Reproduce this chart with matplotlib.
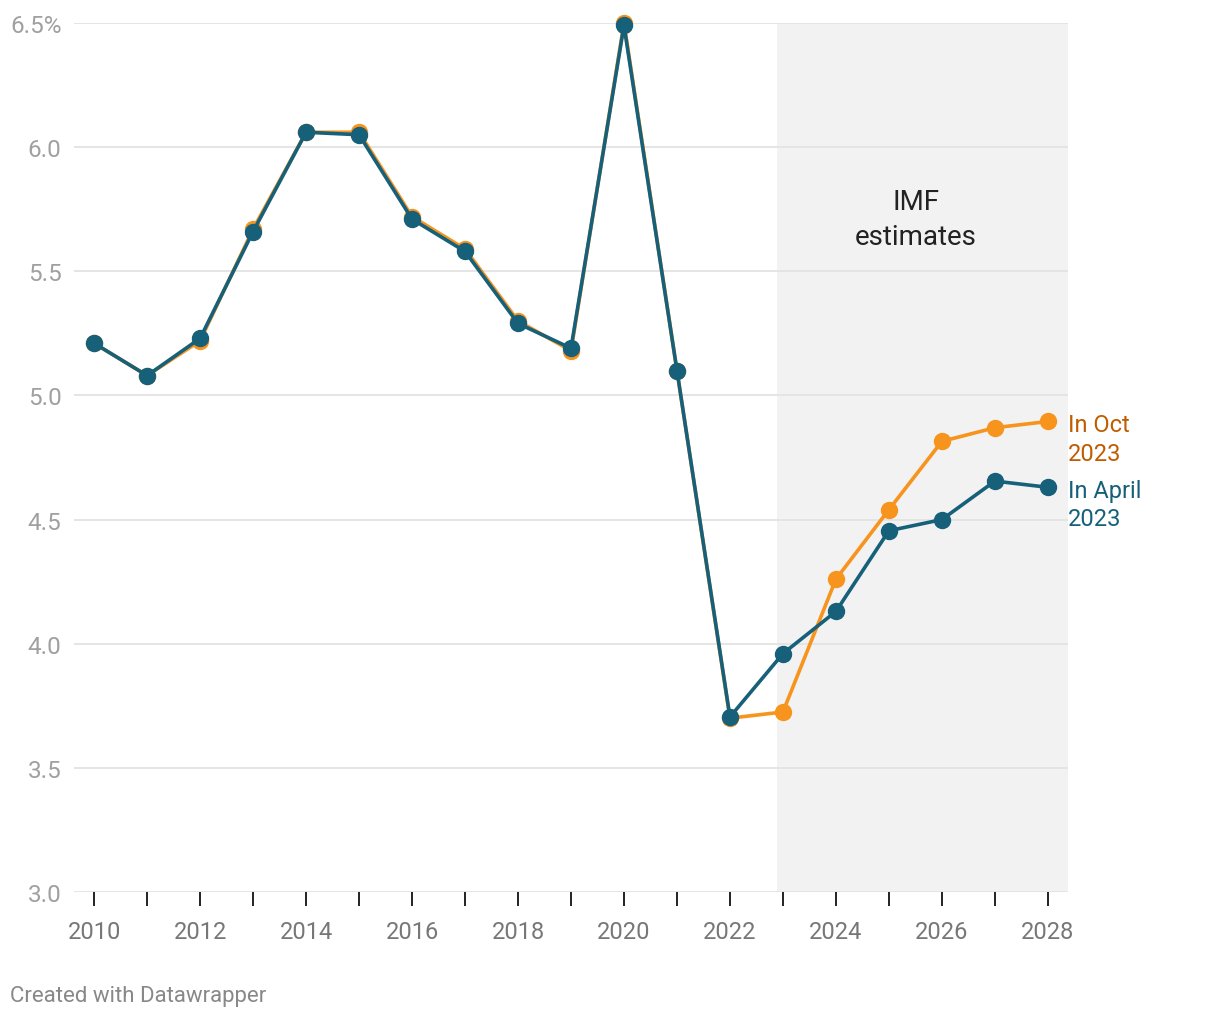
import numpy as np
import matplotlib.pyplot as plt
from matplotlib.ticker import FixedLocator

plt.rcParams['font.family'] = ['Roboto', 'DejaVu Sans']

years = list(range(2010, 2029))
oct_2023 = [5.21, 5.08, 5.22, 5.67, 6.06, 6.06, 5.72, 5.59, 5.30, 5.18,
            6.50, 5.10, 3.70, 3.725, 4.26, 4.54, 4.815, 4.87, 4.895]
april_2023 = [5.21, 5.08, 5.23, 5.66, 6.06, 6.05, 5.71, 5.58, 5.29, 5.19,
              6.49, 5.10, 3.705, 3.96, 4.13, 4.455, 4.50, 4.655, 4.63]
y_ticks = [3.0, 3.5, 4.0, 4.5, 5.0, 5.5, 6.0, 6.5]
y_labels = ["3.0", "3.5", "4.0", "4.5", "5.0", "5.5", "6.0", "6.5%"]
x_labels = list(range(2010, 2029, 2))
forecast_start = 2022.88

ORANGE = "#f7941d"
ORANGE_TEXT = "#c05c00"
TEAL = "#17607a"

W, H = 1220, 1020
fig = plt.figure(figsize=(W / 100, H / 100), dpi=100)
left, right, top, bottom = 74, 1068, 24, 893
ax = fig.add_axes([left / W, 1 - bottom / H, (right - left) / W, (bottom - top) / H])

xmin, xmax = 2009.62, 2028.38
ax.set_xlim(xmin, xmax)
ax.set_ylim(3.0, 6.5)

ax.axvspan(forecast_start, xmax, color="#f2f2f2", zorder=0, lw=0)
for y in y_ticks:
    ax.axhline(y, color="#e3e3e3", lw=1.3, zorder=1)

ax.plot(years, oct_2023, color=ORANGE, lw=2.6, marker="o", ms=11.5,
        zorder=3, clip_on=False)
ax.plot(years, april_2023, color=TEAL, lw=2.6, marker="o", ms=11.5,
        zorder=4, clip_on=False)

for s in ax.spines.values():
    s.set_visible(False)

ax.yaxis.set_major_locator(FixedLocator(y_ticks))
ax.set_yticklabels(y_labels)
ax.tick_params(axis="y", length=0, pad=9, labelsize=17.5, labelcolor="#a0a0a0")

ax.xaxis.set_major_locator(FixedLocator(x_labels))
ax.xaxis.set_minor_locator(FixedLocator(years))
ax.set_xticklabels([str(x) for x in x_labels])
ax.tick_params(axis="x", which="both", length=10, width=1.4, color="#222222",
               direction="out")
ax.tick_params(axis="x", which="major", pad=10, labelsize=17, labelcolor="#777777")

ax.text((forecast_start + xmax) / 2 - 0.12, 5.71, "IMF\nestimates", ha="center",
        va="center", fontsize=20, color="#222222", linespacing=1.35)

ax.text(years[-1] + 0.38, oct_2023[-1] - 0.07, "In Oct\n2023", ha="left",
        va="center", fontsize=17, color=ORANGE_TEXT, linespacing=1.3,
        clip_on=False)
ax.text(years[-1] + 0.38, april_2023[-1] - 0.07, "In April\n2023", ha="left",
        va="center", fontsize=17, color=TEAL, linespacing=1.3, clip_on=False)

fig.text(10 / W, 1 - 997 / H, "Created with Datawrapper", ha="left",
         va="center", fontsize=16, color="#888888")

fig.savefig("out.png", dpi=100, facecolor="white")
